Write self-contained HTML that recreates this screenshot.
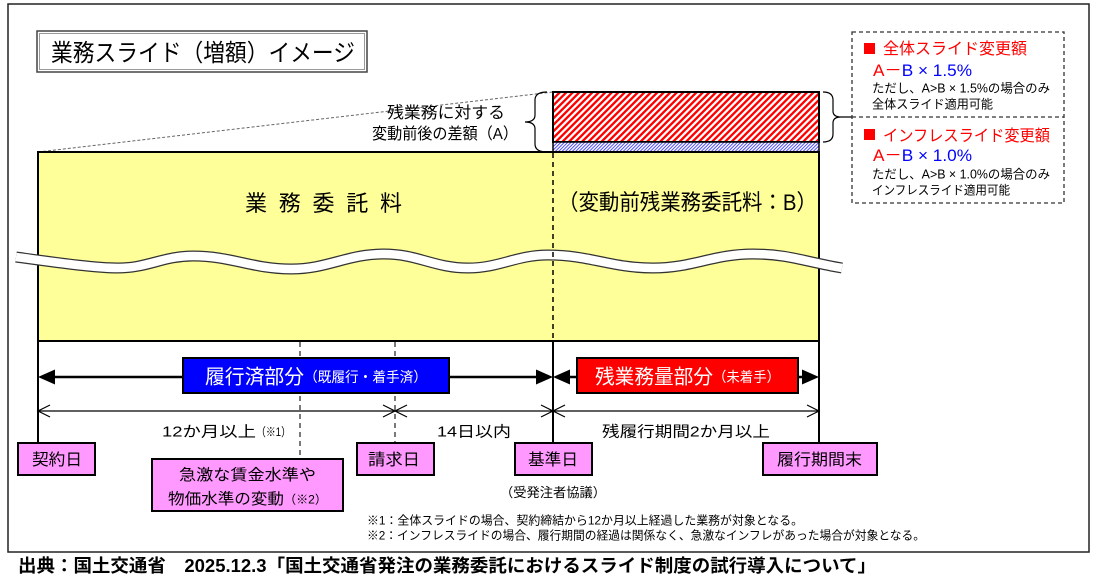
<!DOCTYPE html>
<html><head><meta charset="utf-8"><style>
html,body{margin:0;padding:0;background:#fff;overflow:hidden;width:1098px;height:582px}
svg{display:block}
text{font-family:"Liberation Sans","Noto Sans CJK JP","IPAGothic",sans-serif;}
.b{font-family:"Liberation Sans","Noto Sans CJK JP",sans-serif;font-weight:bold}
</style></head><body>
<svg width="1098" height="582" viewBox="0 0 1098 582" xmlns="http://www.w3.org/2000/svg">
<defs>
<pattern id="rh" width="4.6" height="4.6" patternUnits="userSpaceOnUse" patternTransform="rotate(45)">
<rect width="4.6" height="4.6" fill="#fff"/><rect width="2.3" height="4.6" fill="#f00"/></pattern>
<pattern id="bh" width="2.4" height="2.4" patternUnits="userSpaceOnUse" patternTransform="rotate(45)">
<rect width="2.4" height="2.4" fill="#fff"/><rect width="1" height="2.4" fill="#4d4dff"/></pattern>
</defs>

<!-- outer frame -->
<rect x="8" y="4" width="1081" height="548" fill="#fff" stroke="#222" stroke-width="1.5"/>

<!-- title -->
<rect x="37" y="31" width="330" height="41" fill="#fff" stroke="#444" stroke-width="1.5"/>
<rect x="39.5" y="33.5" width="325" height="36" fill="none" stroke="#999" stroke-width="1"/>
<text x="51" y="61" font-size="24" textLength="304" lengthAdjust="spacingAndGlyphs">業務スライド（増額）イメージ</text>

<!-- diagonal dashed -->
<line x1="38" y1="152" x2="553" y2="92" stroke="#666" stroke-width="1" stroke-dasharray="3,2"/>
<text x="387" y="118" font-size="16" textLength="118" lengthAdjust="spacingAndGlyphs">残業務に対する</text>
<text x="372" y="139" font-size="16" textLength="146" lengthAdjust="spacingAndGlyphs">変動前後の差額（A）</text>

<!-- left bracket -->
<path d="M547,92 Q535,92 535,100 L535,115 Q535,122 525,122 Q535,122 535,129 L535,144 Q535,152 547,152" fill="none" stroke="#000" stroke-width="1.2"/>

<!-- hatched boxes -->
<rect x="553" y="92" width="266" height="50" fill="url(#rh)" stroke="#000" stroke-width="2"/>
<rect x="553" y="142" width="266" height="10" fill="url(#bh)" stroke="#000" stroke-width="1.5"/>

<!-- right bracket -->
<path d="M823,92 Q833,92 833,100 L833,111 Q833,117 841,117 L852,117 M841,117 Q833,117 833,123 L833,134 Q833,142 823,142" fill="none" stroke="#000" stroke-width="1.2"/>

<!-- right panel -->
<rect x="852" y="32" width="212" height="171" fill="#fff" stroke="#333" stroke-width="1.3" stroke-dasharray="4,3"/>
<line x1="852" y1="117" x2="1064" y2="117" stroke="#333" stroke-width="1.3" stroke-dasharray="4,3"/>
<rect x="864" y="43" width="11" height="11" fill="#f00"/>
<text x="883" y="54" font-size="16" fill="#f00" textLength="144" lengthAdjust="spacingAndGlyphs">全体スライド変更額</text>
<text x="873" y="76" font-size="17" textLength="99" lengthAdjust="spacingAndGlyphs"><tspan fill="#f00">A－</tspan><tspan fill="#00f">B × 1.5%</tspan></text>
<text x="872" y="92.6" font-size="12.5" textLength="178" lengthAdjust="spacingAndGlyphs">ただし、A&gt;B × 1.5%の場合のみ</text>
<text x="872" y="108.6" font-size="12.5" textLength="121" lengthAdjust="spacingAndGlyphs">全体スライド適用可能</text>
<rect x="864" y="129" width="11" height="11" fill="#f00"/>
<text x="883" y="141" font-size="16" fill="#f00" textLength="167" lengthAdjust="spacingAndGlyphs">インフレスライド変更額</text>
<text x="873" y="161" font-size="17" textLength="99" lengthAdjust="spacingAndGlyphs"><tspan fill="#f00">A－</tspan><tspan fill="#00f">B × 1.0%</tspan></text>
<text x="872" y="178.6" font-size="12.5" textLength="178" lengthAdjust="spacingAndGlyphs">ただし、A&gt;B × 1.0%の場合のみ</text>
<text x="872" y="194.6" font-size="12.5" textLength="138" lengthAdjust="spacingAndGlyphs">インフレスライド適用可能</text>

<!-- yellow box -->
<rect x="38" y="152" width="781" height="189" fill="#ffff99" stroke="#000" stroke-width="2"/>

<!-- wave band -->
<path d="M16,257 C60,263 95,268 118,268 C148,268 163,256 193,256 C232,256 252,269 291,269 C328,269 347,254 384,254 C418,254 434,268 468,268 C500,268 516,255 548,255 C590,255 611,268 653,268 C693,268 713,254 753,254 C789,254 806,262 842,268" fill="none" stroke="#333" stroke-width="11"/>
<path d="M16,257 C60,263 95,268 118,268 C148,268 163,256 193,256 C232,256 252,269 291,269 C328,269 347,254 384,254 C418,254 434,268 468,268 C500,268 516,255 548,255 C590,255 611,268 653,268 C693,268 713,254 753,254 C789,254 806,262 842,268" fill="none" stroke="#fff" stroke-width="8.5"/>

<line x1="553" y1="153" x2="553" y2="340" stroke="#000" stroke-width="1.5" stroke-dasharray="5,4"/>

<text x="245" y="211" font-size="22" textLength="157" lengthAdjust="spacing">業務委託料</text>
<text x="558" y="210" font-size="22" textLength="259" lengthAdjust="spacingAndGlyphs">（変動前残業務委託料：B）</text>

<!-- vertical lines below -->
<line x1="38" y1="341" x2="38" y2="443" stroke="#000" stroke-width="2"/>
<line x1="553" y1="341" x2="553" y2="443" stroke="#000" stroke-width="2"/>
<line x1="819" y1="341" x2="819" y2="443" stroke="#000" stroke-width="2"/>
<line x1="300" y1="342" x2="300" y2="459" stroke="#333" stroke-width="1.3" stroke-dasharray="5,4"/>
<line x1="395" y1="342" x2="395" y2="443" stroke="#333" stroke-width="1.3" stroke-dasharray="5,4"/>

<!-- thick arrows -->
<line x1="50" y1="377" x2="541" y2="377" stroke="#000" stroke-width="2.5"/>
<polygon points="38,377 55,369.5 55,384.5" fill="#000"/>
<polygon points="553,377 536,369.5 536,384.5" fill="#000"/>
<line x1="565" y1="377" x2="807" y2="377" stroke="#000" stroke-width="2.5"/>
<polygon points="553,377 570,369.5 570,384.5" fill="#000"/>
<polygon points="819,377 802,369.5 802,384.5" fill="#000"/>

<rect x="183" y="358" width="266" height="35" fill="#0000ff" stroke="#000" stroke-width="2"/>
<text x="205" y="383.5" font-size="20" fill="#fff" textLength="99" lengthAdjust="spacingAndGlyphs">履行済部分</text>
<text x="304" y="382" font-size="14" fill="#fff" textLength="123" lengthAdjust="spacingAndGlyphs">（既履行・着手済）</text>

<rect x="577" y="358" width="221" height="35" fill="#ff0000" stroke="#000" stroke-width="2"/>
<text x="595" y="383.5" font-size="20" fill="#fff" textLength="118" lengthAdjust="spacingAndGlyphs">残業務量部分</text>
<text x="713" y="382" font-size="14" fill="#fff" textLength="67" lengthAdjust="spacingAndGlyphs">（未着手）</text>

<!-- thin arrows -->
<line x1="38" y1="411" x2="819" y2="411" stroke="#000" stroke-width="1.2"/>
<g fill="none" stroke="#000" stroke-width="1.2">
<polyline points="50,405 38,411 50,417"/>
<polyline points="383,405 395,411 383,417"/>
<polyline points="407,405 395,411 407,417"/>
<polyline points="541,405 553,411 541,417"/>
<polyline points="565,405 553,411 565,417"/>
<polyline points="807,405 819,411 807,417"/>
</g>

<text x="162" y="436.5" font-size="15" textLength="94" lengthAdjust="spacingAndGlyphs">12か月以上</text>
<text x="256" y="436" font-size="12" textLength="35" lengthAdjust="spacingAndGlyphs">（※1）</text>
<text x="437" y="436.5" font-size="15" textLength="74" lengthAdjust="spacingAndGlyphs">14日以内</text>
<text x="602" y="436.5" font-size="15" textLength="168" lengthAdjust="spacingAndGlyphs">残履行期間2か月以上</text>

<!-- pink boxes -->
<g fill="#ff99ff" stroke="#000" stroke-width="2">
<rect x="18" y="443" width="77" height="32"/>
<rect x="152" y="459" width="191" height="52"/>
<rect x="357" y="443" width="77" height="32"/>
<rect x="515" y="443" width="77" height="32"/>
<rect x="763" y="443" width="114" height="32"/>
</g>
<text x="32" y="465" font-size="16" textLength="50" lengthAdjust="spacingAndGlyphs">契約日</text>
<text x="368" y="465" font-size="16" textLength="52" lengthAdjust="spacingAndGlyphs">請求日</text>
<text x="528" y="465" font-size="16" textLength="50" lengthAdjust="spacingAndGlyphs">基準日</text>
<text x="777" y="465" font-size="16" textLength="85" lengthAdjust="spacingAndGlyphs">履行期間末</text>
<text x="179" y="480" font-size="15.5" textLength="137" lengthAdjust="spacingAndGlyphs">急激な賃金水準や</text>
<text x="168" y="504" font-size="15.5" textLength="116" lengthAdjust="spacingAndGlyphs">物価水準の変動</text>
<text x="284" y="503.5" font-size="12" textLength="43" lengthAdjust="spacingAndGlyphs">（※2）</text>
<text x="500" y="497" font-size="13" textLength="106" lengthAdjust="spacingAndGlyphs">（受発注者協議）</text>

<!-- footnotes -->
<text x="367" y="524.5" font-size="12" textLength="436" lengthAdjust="spacingAndGlyphs">※1：全体スライドの場合、契約締結から12か月以上経過した業務が対象となる。</text>
<text x="367" y="539.5" font-size="12" textLength="558" lengthAdjust="spacingAndGlyphs">※2：インフレスライドの場合、履行期間の経過は関係なく、急激なインフレがあった場合が対象となる。</text>

<!-- footer -->
<text class="b" x="18" y="572" font-size="18" textLength="858" lengthAdjust="spacingAndGlyphs">出典：国土交通省　2025.12.3「国土交通省発注の業務委託におけるスライド制度の試行導入について」</text>
</svg>
</body></html>
